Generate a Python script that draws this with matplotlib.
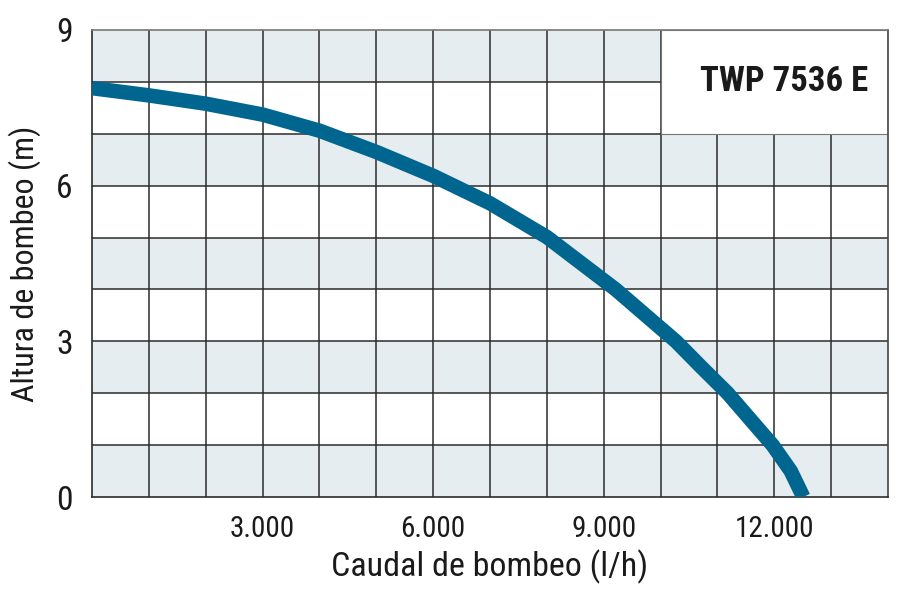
import matplotlib
matplotlib.use('Agg')
import matplotlib.pyplot as plt
from matplotlib.patches import Rectangle

plt.rcParams['font.family'] = ['Roboto Condensed', 'Roboto', 'DejaVu Sans']

# pump curve
caudal = [0, 1000, 2000, 3000, 4000, 5000, 6000, 7000, 8000, 9210,
          10270, 10720, 11180, 11590, 11970, 12290, 12510]
altura = [7.88, 7.74, 7.58, 7.37, 7.06, 6.65, 6.19, 5.66, 5.01, 4.0,
          3.0, 2.5, 2.0, 1.48, 1.0, 0.5, 0.0]

x_ticks = [3000, 6000, 9000, 12000]
x_tick_labels = ['3.000', '6.000', '9.000', '12.000']
y_ticks = [0, 3, 6, 9]
modelo = 'TWP 7536 E'

fig = plt.figure(figsize=(9, 6), dpi=100)
ax = fig.add_axes([92/900, 103/600, 796/900, 467/600])
ax.set_xlim(0, 14000)
ax.set_ylim(0, 9)

# alternating shaded rows
for y0 in range(0, 9, 2):
    ax.axhspan(y0, y0 + 1, color='#e5edf0', lw=0, zorder=0)

grid_col = '#2b2b2b'
for gx in range(1000, 14000, 1000):
    ax.axvline(gx, color=grid_col, lw=1.1, zorder=1)
for gy in range(1, 9):
    ax.axhline(gy, color=grid_col, lw=1.1, zorder=1)

# white box for the model name
ax.add_patch(Rectangle((10000, 7), 4000, 2, facecolor='white', edgecolor='#777777',
                       lw=0.8, zorder=2))
ax.text(13650, 8.0, modelo, ha='right', va='center', fontsize=25, fontweight='bold',
        color='#1a1a1a', zorder=3)

ax.plot(caudal, altura, color='#006690', lw=10.5, solid_joinstyle='round',
        solid_capstyle='butt', zorder=4)

for s in ax.spines.values():
    s.set_color(grid_col)
    s.set_linewidth(1.2)
ax.spines['top'].set_color('#777777')
ax.spines['right'].set_color('#444444')

ax.set_xticks(x_ticks)
ax.set_xticklabels(x_tick_labels)
ax.set_yticks(y_ticks)
ax.tick_params(length=0, labelsize=21, colors='#1a1a1a')
ax.tick_params(axis='x', pad=13)
ax.tick_params(axis='y', pad=14)
for lab in ax.get_yticklabels():
    lab.set_fontsize(24)

ax.set_xlabel('Caudal de bombeo (l/h)', fontsize=24.5, color='#1a1a1a', labelpad=5)
ax.set_ylabel('Altura de bombeo (m)', fontsize=23, color='#1a1a1a', labelpad=11)

fig.savefig('out.png', dpi=100)
